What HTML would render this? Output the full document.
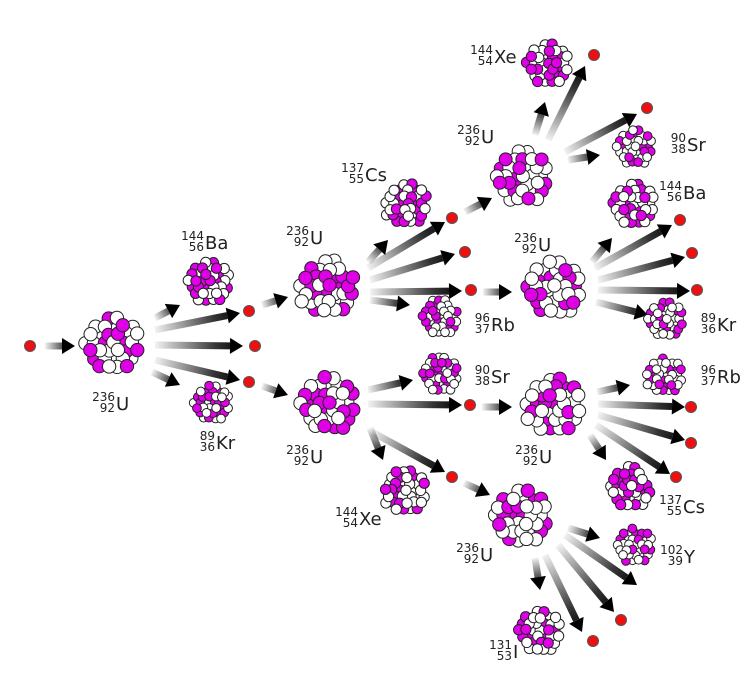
<!DOCTYPE html>
<html><head><meta charset="utf-8"><style>
html,body{margin:0;padding:0;background:#fff;}
svg{display:block;}
text{font-family:"DejaVu Sans","Liberation Sans",sans-serif;fill:#222;}
</style></head><body>
<svg id="s" width="746" height="674" viewBox="0 0 746 674" xmlns="http://www.w3.org/2000/svg">
<defs></defs>
</svg>
<script>
const NS="http://www.w3.org/2000/svg";
const svg=document.getElementById('s');
const defs=svg.querySelector('defs');
function el(t,a,p){const e=document.createElementNS(NS,t);for(const k in a)e.setAttribute(k,a[k]);(p||svg).appendChild(e);return e;}
let seed=11;function rnd(){seed=(seed*16807)%2147483647;return seed/2147483647;}
function nucleus(cx,cy,R){
  const r=R*0.19;const s=r*1.4;const pts=[];
  const g=el('g',{});
  let row=0;
  for(let y=-R;y<=R;y+=s*0.87,row++){for(let x=-R-s;x<=R+s;x+=s){
    const xx=x+(row%2?s/2:0)+(rnd()-0.5)*r*0.3, yy=y+(rnd()-0.5)*r*0.3;
    if(Math.hypot(xx,yy)<=R-r*0.95)pts.push([xx,yy]);}}
  pts.sort(()=>rnd()-0.5);
  pts.forEach(p=>el('circle',{cx:cx+p[0],cy:cy+p[1],r:r,fill:rnd()<0.42?'#e000e8':'#fff',stroke:'#222','stroke-width':1},g));
}
let gid=0;
function arrow(x1,y1,x2,y2){
  const id='g'+(gid++);
  const lg=el('linearGradient',{id:id,gradientUnits:'userSpaceOnUse',x1:x1,y1:y1,x2:x2,y2:y2},defs);
  el('stop',{offset:'0','stop-color':'#000','stop-opacity':'0.05'},lg);
  el('stop',{offset:'0.7','stop-color':'#000','stop-opacity':'0.8'},lg);
  el('stop',{offset:'1','stop-color':'#000'},lg);
  const dx=x2-x1,dy=y2-y1,L=Math.hypot(dx,dy),ux=dx/L,uy=dy/L,nx=-uy,ny=ux;
  const hl=13,hw=8,w=3.5;
  const bx=x2-ux*hl,by=y2-uy*hl;
  el('polygon',{points:`${x1+nx*w},${y1+ny*w} ${bx+nx*w},${by+ny*w} ${bx-nx*w},${by-ny*w} ${x1-nx*w},${y1-ny*w}`,fill:`url(#${id})`});
  el('polygon',{points:`${x2},${y2} ${bx+nx*hw},${by+ny*hw} ${bx-nx*hw},${by-ny*hw}`,fill:'#000'});
}
function neutron(x,y){el('circle',{cx:x,cy:y,r:5.5,fill:'#ee1010',stroke:'#555','stroke-width':1});}
function label(x,y,m,z,s){
  const t=el('text',{x:x+22,y:y-8,'font-size':12,'text-anchor':'end'});t.textContent=m;
  const t2=el('text',{x:x+22,y:y+3,'font-size':12,'text-anchor':'end'});t2.textContent=z;
  const t3=el('text',{x:x+23,y:y+1,'font-size':18});t3.textContent=s;
}
const arrows=[[45,346,75,346],
[155,318,180,305],[155,330,240,313],[155,345,243,346],[155,360,240,380],[152,372,180,385],
[262,305,288,297],[262,386,288,395],
[368,262,388,240],[368,268,445,222],[370,280,455,254],[370,292,462,291],[370,300,410,305],
[483,292,512,292],[465,212,492,198],
[535,135,545,102],[548,140,585,66],[565,152,637,114],[568,160,600,155],
[592,262,612,238],[595,268,672,225],[598,280,685,257],[598,290,690,291],[596,302,648,315],
[368,390,413,380],[368,404,462,405],[370,428,383,460],[372,432,445,472],
[482,407,512,407],[464,483,490,495],
[597,392,630,385],[598,404,685,407],[598,415,685,440],[596,425,670,474],[590,435,606,460],
[568,528,600,538],[565,535,637,585],[558,545,614,612],[545,555,582,632],[535,558,540,590]];
arrows.forEach(a=>arrow(...a));
[[111,345,35],[327,288,35],[327,405,35],[521,178,34],[553,289,35],[553,406,35],[520,518,35],
[208,283,27],[211,404,23],[406,205,27],[440,318,23],[440,375,23],[405,492,27],[547,65,27],[634,148,23],[633,205,27],[665,320,23],[664,376,23],[630,488,27],[634,546,23],[539,632,27]].forEach(n=>nucleus(...n));
[[30,346],[249,311],[255,346],[249,382],[452,218],[465,252],[471,290],[470,405],[452,477],[594,55],[647,108],[680,220],[692,253],[697,290],[691,407],[691,443],[676,477],[621,620],[593,641]].forEach(n=>neutron(...n));
[[93,409,'236','92','U'],[182,248,'144','56','Ba'],[193,448,'89','36','Kr'],[287,243,'236','92','U'],[287,462,'236','92','U'],
[342,180,'137','55','Cs'],[468,330,'96','37','Rb'],[468,382,'90','38','Sr'],[336,524,'144','54','Xe'],[471,62,'144','54','Xe'],
[458,142,'236','92','U'],[515,250,'236','92','U'],[664,150,'90','38','Sr'],[660,198,'144','56','Ba'],[694,330,'89','36','Kr'],
[694,382,'96','37','Rb'],[516,462,'236','92','U'],[660,512,'137','55','Cs'],[661,562,'102','39','Y'],[457,560,'236','92','U'],[490,657,'131','53','I']].forEach(l=>label(...l));
</script>
</body></html>
